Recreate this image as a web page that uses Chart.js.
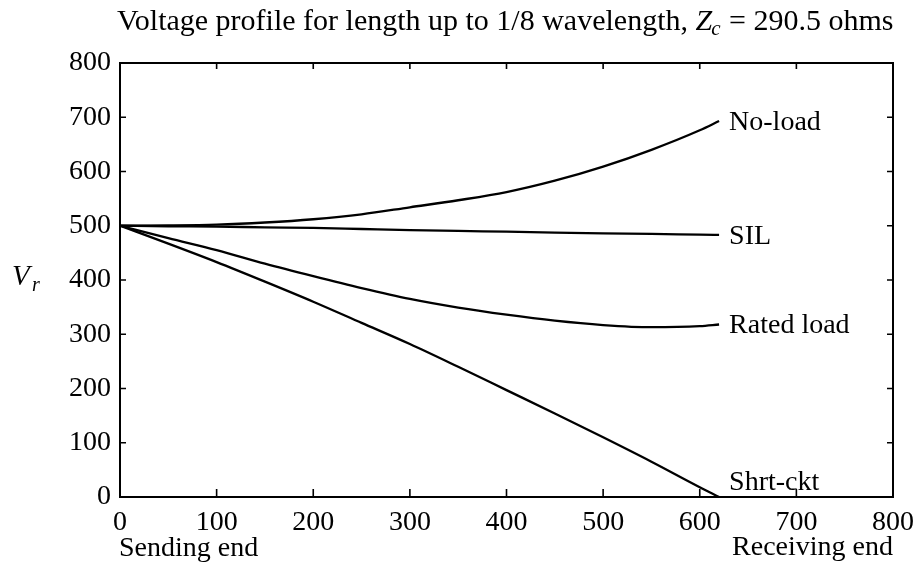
<!DOCTYPE html>
<html>
<head>
<meta charset="utf-8">
<script src="https://cdn.jsdelivr.net/npm/chart.js@4/dist/chart.umd.min.js"></script>
<style>
  body { margin: 0; background: #fff; }
  canvas { display: block; }
</style>
</head>
<body>
<canvas id="canvas_vprofile" width="923" height="573"></canvas>
<script>
// distance along the line (km)
var lengths = [0, 50, 100, 150, 200, 250, 300, 350, 400, 450, 500, 550, 600, 620];
// receiving end voltage for each case
var noLoad   = [500, 500.5, 502, 506, 512, 521, 534, 547, 562, 583, 609, 640, 676, 693];
var sil      = [500, 499, 498.5, 497, 496, 494, 492, 490.5, 489, 487.5, 486, 485, 483.5, 483];
var ratedLoad = [500, 477, 455, 430, 407, 385, 365, 349, 336, 325, 317, 313, 315, 318];
var shrtCkt  = [500, 467, 433, 397, 360, 321, 282, 240, 197, 154, 110, 65, 18, 0];
var caseNames = ['No-load', 'SIL', 'Rated load', 'Shrt-ckt'];
var axisTicks = [0, 100, 200, 300, 400, 500, 600, 700, 800];

var serif = '"Liberation Serif", "DejaVu Serif", serif';

function toPoints(ys){
  return lengths.map(function(x, i){ return {x: x, y: ys[i]}; });
}

function lineSet(name, ys){
  return {
    label: name,
    data: toPoints(ys),
    borderColor: '#000',
    borderWidth: 2.3,
    pointRadius: 0,
    fill: false,
    cubicInterpolationMode: 'monotone',
    clip: false
  };
}

// box, inward ticks, title and text labels
var decor = {
  id: 'decor',
  afterDraw: function(chart){
    var ctx = chart.ctx, a = chart.chartArea;
    var xs = chart.scales.x, ys = chart.scales.y;
    ctx.save();
    ctx.strokeStyle = '#000';
    ctx.lineWidth = 2;
    ctx.strokeRect(a.left, a.top, a.right - a.left, a.bottom - a.top);
    ctx.lineWidth = 1.6;
    ctx.beginPath();
    axisTicks.forEach(function(v){
      if (v == 0 || v == 800) return;
      var px = xs.getPixelForValue(v);
      ctx.moveTo(px, a.bottom); ctx.lineTo(px, a.bottom - 8);
      ctx.moveTo(px, a.top); ctx.lineTo(px, a.top + 6);
      var py = ys.getPixelForValue(v);
      ctx.moveTo(a.left, py); ctx.lineTo(a.left + 6, py);
      ctx.moveTo(a.right, py); ctx.lineTo(a.right - 6, py);
    });
    ctx.stroke();

    ctx.fillStyle = '#000';
    ctx.textBaseline = 'alphabetic';

    // title
    var x = 117, base = 30;
    ctx.font = '30px ' + serif;
    var t1 = 'Voltage profile for length up to 1/8 wavelength, ';
    ctx.fillText(t1, x, base); x += ctx.measureText(t1).width;
    ctx.font = 'italic 30px ' + serif;
    ctx.fillText('Z', x, base); x += ctx.measureText('Z').width;
    ctx.font = 'italic 21px ' + serif;
    ctx.fillText('c', x - 1, base + 5); x += ctx.measureText('c').width;
    ctx.font = '30px ' + serif;
    ctx.fillText(' = 290.5 ohms', x, base);

    // y label
    ctx.font = 'italic 29px ' + serif;
    ctx.fillText('V', 12, 285);
    ctx.font = 'italic 20px ' + serif;
    ctx.fillText('r', 32, 291);

    // x end labels
    ctx.font = '28px ' + serif;
    ctx.textAlign = 'left';
    ctx.fillText('Sending end', a.left - 1, 556);
    ctx.textAlign = 'right';
    ctx.fillText('Receiving end', a.right, 555);

    // curve labels
    ctx.textAlign = 'left';
    var offs = [9, 9, 9, -7];
    chart.data.datasets.forEach(function(ds, i){
      var last = ds.data[ds.data.length - 1];
      var px = xs.getPixelForValue(last.x) + 10;
      var py = ys.getPixelForValue(last.y) + offs[i];
      ctx.fillText(caseNames[i], px, py);
    });
    ctx.restore();
  }
};

var chart = new Chart(document.getElementById('canvas_vprofile'), {
  type: 'line',
  data: {
    datasets: [
      lineSet(caseNames[0], noLoad),
      lineSet(caseNames[1], sil),
      lineSet(caseNames[2], ratedLoad),
      lineSet(caseNames[3], shrtCkt)
    ]
  },
  options: {
    responsive: false,
    animation: false,
    layout: { padding: { top: 63, right: 30, left: 0, bottom: 0 } },
    plugins: { legend: { display: false }, tooltip: { enabled: false } },
    scales: {
      x: {
        type: 'linear', min: 0, max: 800,
        grid: { display: false, drawTicks: false },
        border: { display: false },
        afterFit: function(s){ s.height = 76; },
        ticks: { stepSize: 100, padding: 9, color: '#000', font: { family: serif, size: 28 } }
      },
      y: {
        min: 0, max: 800,
        grid: { display: false, drawTicks: false },
        border: { display: false },
        afterFit: function(s){ s.width = 120; },
        ticks: { stepSize: 100, padding: 9, color: '#000', font: { family: serif, size: 28 } }
      }
    }
  },
  plugins: [decor]
});
</script>
</body>
</html>
